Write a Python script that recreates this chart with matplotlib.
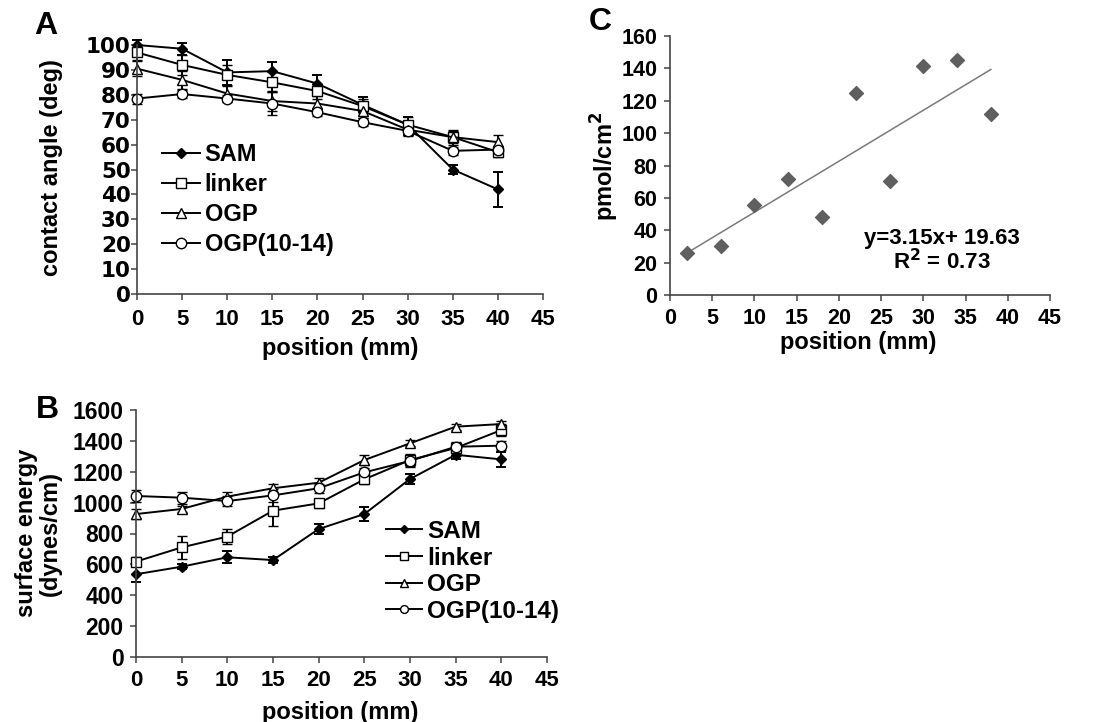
import matplotlib
matplotlib.use('Agg')
import matplotlib.pyplot as plt
import numpy as np

plt.rcParams['font.family'] = ['Liberation Sans', 'DejaVu Sans']
plt.rcParams['font.weight'] = 'bold'

# data
position = [0, 5, 10, 15, 20, 25, 30, 35, 40]
series = ['SAM', 'linker', 'OGP', 'OGP(10-14)']

# A: contact angle (deg)
angle_sam = [100, 98.5, 89, 89.5, 84.5, 76, 68, 50, 42]
angle_linker = [97, 92, 88, 85, 81.5, 75.5, 68, 63, 57]
angle_ogp = [90.5, 86, 80.5, 77.5, 76.5, 73.5, 66, 63, 61]
angle_ogp10 = [78.5, 80.3, 78.5, 76.5, 73, 69, 65.5, 57.5, 58]
angle_sam_err = [2, 2.5, 5, 3.5, 3.5, 3, 3, 2, 7]
angle_linker_err = [3, 4, 4, 4, 3, 3, 3, 2.5, 2]
angle_ogp_err = [3, 3.5, 3, 4, 3, 3, 2, 3, 3]
angle_ogp10_err = [2, 1.5, 1.5, 4.5, 1.5, 1.5, 2, 1.5, 1.5]

# B: surface energy (dynes/cm)
energy_sam = [536, 585, 646, 628, 829, 926, 1153, 1310, 1280]
energy_linker = [618, 710, 780, 948, 995, 1151, 1276, 1354, 1470]
energy_ogp = [926, 959, 1039, 1093, 1129, 1276, 1384, 1492, 1509]
energy_ogp10 = [1043, 1032, 1010, 1047, 1093, 1196, 1270, 1362, 1369]
energy_sam_err = [50, 15, 40, 20, 35, 45, 30, 30, 50]
energy_linker_err = [30, 75, 50, 100, 30, 30, 40, 30, 40]
energy_ogp_err = [30, 20, 30, 30, 30, 30, 20, 20, 20]
energy_ogp10_err = [40, 40, 30, 40, 30, 30, 40, 30, 30]

# C: pmol/cm2 vs position
c_position = [2, 6, 10, 14, 18, 22, 26, 30, 34, 38]
c_pmol = [25.7, 30.5, 55.6, 71.7, 48.4, 124.6, 70.4, 141.5, 145.2, 112]
fit_slope = 3.15
fit_intercept = 19.63
fit_r2 = 0.73

W, H = 1108, 722
fig = plt.figure(figsize=(W / 100, H / 100), dpi=100)


def box(left, top, right, bottom):
    return [left / W, 1 - bottom / H, (right - left) / W, (bottom - top) / H]


marker_style = [
    dict(marker='D', ms=5, mfc='black', mec='black'),
    dict(marker='s', ms=7.5, mfc='white', mec='black', mew=1),
    dict(marker='^', ms=7.5, mfc='white', mec='black', mew=1),
    dict(marker='o', ms=7.5, mfc='white', mec='black', mew=1),
]


def style_axis(ax, xpad, ypad, xsize, ysize, yfamily=None):
    for s in ['top', 'right']:
        ax.spines[s].set_visible(False)
    for s in ['left', 'bottom']:
        ax.spines[s].set_color('#444444')
        ax.spines[s].set_linewidth(1.2)
    ax.tick_params(direction='out', length=4, width=1.1, color='#444444')
    ax.tick_params(axis='x', pad=xpad, labelsize=xsize)
    ax.tick_params(axis='y', pad=ypad, labelsize=ysize)
    ax.set_xlim(0, 45)
    ax.set_xticks(range(0, 50, 5))
    for lbl in ax.get_xticklabels() + ax.get_yticklabels():
        lbl.set_fontweight('bold')
    if yfamily:
        for lbl in ax.get_yticklabels():
            lbl.set_family(yfamily)


def draw_lines(ax, ys, errs):
    handles = []
    for y, e, st in zip(ys, errs, marker_style):
        h = ax.errorbar(position, y, yerr=e, color='black', lw=1.4,
                        elinewidth=1.4, capsize=3.5, capthick=1.4,
                        clip_on=False, **st)
        handles.append(h[0])
    return handles


# panel A
axA = fig.add_axes(box(137, 45, 543, 294))
hA = draw_lines(axA, [angle_sam, angle_linker, angle_ogp, angle_ogp10],
                [angle_sam_err, angle_linker_err, angle_ogp_err, angle_ogp10_err])
axA.set_ylim(0, 100)
axA.set_yticks(range(0, 101, 10))
style_axis(axA, 7, 0.5, 16, 15.5, yfamily='DejaVu Sans')
axA.legend(hA, series, loc='upper left', bbox_to_anchor=(162 / W, 1 - 143 / H),
           bbox_transform=fig.transFigure, frameon=False, fontsize=17,
           handlelength=1.6, handletextpad=0.2, labelspacing=0.3,
           borderpad=0, borderaxespad=0)

# panel B
axB = fig.add_axes(box(136, 410, 547, 657))
hB = draw_lines(axB, [energy_sam, energy_linker, energy_ogp, energy_ogp10],
                [energy_sam_err, energy_linker_err, energy_ogp_err, energy_ogp10_err])
axB.set_ylim(0, 1600)
axB.set_yticks(range(0, 1601, 200))
style_axis(axB, 5, 5, 16, 16.5)
axB.legend(hB, series, loc='upper left', bbox_to_anchor=(386 / W, 1 - 520 / H),
           bbox_transform=fig.transFigure, frameon=False, fontsize=17.5,
           handlelength=1.5, handletextpad=0.2, labelspacing=0.15,
           borderpad=0, borderaxespad=0, markerscale=0.75)

# panel C
axC = fig.add_axes(box(670, 36, 1050, 295))
axC.scatter(c_position, c_pmol, marker='D', s=50, color='#5f5f5f', zorder=3)
xfit = np.array([c_position[0], c_position[-1]])
axC.plot(xfit, fit_slope * xfit + fit_intercept, color='#7a7a7a', lw=1.1)
axC.set_ylim(0, 160)
axC.set_yticks(range(0, 161, 20))
style_axis(axC, 5, 5, 15.5, 15.5)
axC.text(0.715, 0.17, f'y={fit_slope:.2f}x+ {fit_intercept:.2f}\nR$^{{\\mathbf{{2}}}}$ = {fit_r2:.2f}',
         transform=axC.transAxes, ha='center', va='center', fontsize=16,
         fontweight='bold', linespacing=1.0)

# axis titles and panel letters
fig.text(52 / W, 1 - 168 / H, 'contact angle (deg)', rotation=90,
         ha='center', va='center', fontsize=17)
fig.text(38 / W, 1 - 533 / H, 'surface energy\n(dynes/cm)', rotation=90,
         ha='center', va='center', fontsize=17, linespacing=1.05)
fig.text(605 / W, 1 - 166 / H, 'pmol/cm$^{\\mathbf{2}}$', rotation=90,
         ha='center', va='center', fontsize=17)
fig.text(340 / W, 1 - 348 / H, 'position (mm)', ha='center', va='center', fontsize=17)
fig.text(340 / W, 1 - 712 / H, 'position (mm)', ha='center', va='center', fontsize=17)
fig.text(858 / W, 1 - 343 / H, 'position (mm)', ha='center', va='center', fontsize=17)
fig.text(46 / W, 1 - 26 / H, 'A', ha='center', va='center', fontsize=23)
fig.text(47 / W, 1 - 410 / H, 'B', ha='center', va='center', fontsize=23)
fig.text(600 / W, 1 - 22 / H, 'C', ha='center', va='center', fontsize=23)

fig.savefig('out.png', dpi=100)
